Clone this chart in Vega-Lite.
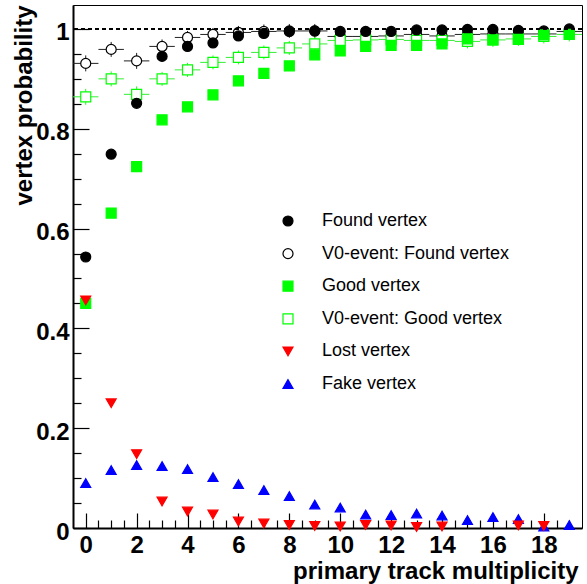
{
"$schema": "https://vega.github.io/schema/vega-lite/v6.json",
"width": 509, "height": 523,
"autosize": {"type": "none"},
"padding": {"left": 73, "top": 5, "right": 5, "bottom": 56},
"background": "white",
"config": {"font": "Liberation Sans", "view": {"stroke": "black", "strokeWidth": 1}},
"datasets": {"pts": [
{"s":"V0-event: Found vertex","m":0,"p":0.931,"lo":0.915,"hi":0.947,"x0":-0.5,"x1":0.5},
{"s":"V0-event: Found vertex","m":1,"p":0.959,"lo":0.944,"hi":0.974,"x0":0.5,"x1":1.5},
{"s":"V0-event: Found vertex","m":2,"p":0.936,"lo":0.920,"hi":0.952,"x0":1.5,"x1":2.5},
{"s":"V0-event: Found vertex","m":3,"p":0.965,"lo":0.951,"hi":0.979,"x0":2.5,"x1":3.5},
{"s":"V0-event: Found vertex","m":4,"p":0.983,"lo":0.970,"hi":0.996,"x0":3.5,"x1":4.5},
{"s":"V0-event: Found vertex","m":5,"p":0.989,"lo":0.976,"hi":1.002,"x0":4.5,"x1":5.5},
{"s":"V0-event: Found vertex","m":6,"p":0.993,"lo":0.980,"hi":1.006,"x0":5.5,"x1":6.5},
{"s":"V0-event: Found vertex","m":7,"p":0.995,"lo":0.981,"hi":1.009,"x0":6.5,"x1":7.5},
{"s":"V0-event: Found vertex","m":8,"p":0.996,"lo":0.982,"hi":1.010,"x0":7.5,"x1":8.5},
{"s":"V0-event: Found vertex","m":9,"p":0.996,"lo":0.982,"hi":1.010,"x0":8.5,"x1":9.5},
{"s":"V0-event: Found vertex","m":10,"p":0.985,"lo":0.973,"hi":0.997,"x0":9.5,"x1":10.5},
{"s":"V0-event: Found vertex","m":11,"p":0.985,"lo":0.973,"hi":0.997,"x0":10.5,"x1":11.5},
{"s":"V0-event: Found vertex","m":12,"p":0.986,"lo":0.974,"hi":0.998,"x0":11.5,"x1":12.5},
{"s":"V0-event: Found vertex","m":13,"p":0.989,"lo":0.977,"hi":1.001,"x0":12.5,"x1":13.5},
{"s":"V0-event: Found vertex","m":14,"p":0.986,"lo":0.974,"hi":0.998,"x0":13.5,"x1":14.5},
{"s":"V0-event: Found vertex","m":15,"p":0.989,"lo":0.977,"hi":1.001,"x0":14.5,"x1":15.5},
{"s":"V0-event: Found vertex","m":16,"p":0.990,"lo":0.978,"hi":1.002,"x0":15.5,"x1":16.5},
{"s":"V0-event: Found vertex","m":17,"p":0.990,"lo":0.978,"hi":1.002,"x0":16.5,"x1":17.5},
{"s":"V0-event: Found vertex","m":18,"p":0.990,"lo":0.978,"hi":1.002,"x0":17.5,"x1":18.5},
{"s":"V0-event: Found vertex","m":19,"p":0.995,"lo":0.983,"hi":1.007,"x0":18.5,"x1":19.5},
{"s":"V0-event: Good vertex","m":0,"p":0.864,"lo":0.848,"hi":0.880,"x0":-0.5,"x1":0.5},
{"s":"V0-event: Good vertex","m":1,"p":0.900,"lo":0.885,"hi":0.915,"x0":0.5,"x1":1.5},
{"s":"V0-event: Good vertex","m":2,"p":0.869,"lo":0.853,"hi":0.885,"x0":1.5,"x1":2.5},
{"s":"V0-event: Good vertex","m":3,"p":0.900,"lo":0.886,"hi":0.914,"x0":2.5,"x1":3.5},
{"s":"V0-event: Good vertex","m":4,"p":0.918,"lo":0.904,"hi":0.932,"x0":3.5,"x1":4.5},
{"s":"V0-event: Good vertex","m":5,"p":0.933,"lo":0.919,"hi":0.947,"x0":4.5,"x1":5.5},
{"s":"V0-event: Good vertex","m":6,"p":0.943,"lo":0.929,"hi":0.957,"x0":5.5,"x1":6.5},
{"s":"V0-event: Good vertex","m":7,"p":0.953,"lo":0.939,"hi":0.967,"x0":6.5,"x1":7.5},
{"s":"V0-event: Good vertex","m":8,"p":0.962,"lo":0.948,"hi":0.976,"x0":7.5,"x1":8.5},
{"s":"V0-event: Good vertex","m":9,"p":0.970,"lo":0.956,"hi":0.984,"x0":8.5,"x1":9.5},
{"s":"V0-event: Good vertex","m":10,"p":0.977,"lo":0.963,"hi":0.991,"x0":9.5,"x1":10.5},
{"s":"V0-event: Good vertex","m":11,"p":0.978,"lo":0.964,"hi":0.992,"x0":10.5,"x1":11.5},
{"s":"V0-event: Good vertex","m":12,"p":0.979,"lo":0.965,"hi":0.993,"x0":11.5,"x1":12.5},
{"s":"V0-event: Good vertex","m":13,"p":0.977,"lo":0.963,"hi":0.991,"x0":12.5,"x1":13.5},
{"s":"V0-event: Good vertex","m":14,"p":0.977,"lo":0.963,"hi":0.991,"x0":13.5,"x1":14.5},
{"s":"V0-event: Good vertex","m":15,"p":0.975,"lo":0.961,"hi":0.989,"x0":14.5,"x1":15.5},
{"s":"V0-event: Good vertex","m":16,"p":0.978,"lo":0.964,"hi":0.992,"x0":15.5,"x1":16.5},
{"s":"V0-event: Good vertex","m":17,"p":0.980,"lo":0.966,"hi":0.994,"x0":16.5,"x1":17.5},
{"s":"V0-event: Good vertex","m":18,"p":0.985,"lo":0.971,"hi":0.999,"x0":17.5,"x1":18.5},
{"s":"V0-event: Good vertex","m":19,"p":0.989,"lo":0.975,"hi":1.003,"x0":18.5,"x1":19.5},
{"s":"Found vertex","m":0,"p":0.543},
{"s":"Found vertex","m":1,"p":0.749},
{"s":"Found vertex","m":2,"p":0.851},
{"s":"Found vertex","m":3,"p":0.945},
{"s":"Found vertex","m":4,"p":0.965},
{"s":"Found vertex","m":5,"p":0.972},
{"s":"Found vertex","m":6,"p":0.986},
{"s":"Found vertex","m":7,"p":0.991},
{"s":"Found vertex","m":8,"p":0.995},
{"s":"Found vertex","m":9,"p":0.996},
{"s":"Found vertex","m":10,"p":0.995},
{"s":"Found vertex","m":11,"p":0.995},
{"s":"Found vertex","m":12,"p":0.995},
{"s":"Found vertex","m":13,"p":0.998},
{"s":"Found vertex","m":14,"p":0.998},
{"s":"Found vertex","m":15,"p":0.999},
{"s":"Found vertex","m":16,"p":0.999},
{"s":"Found vertex","m":17,"p":0.997},
{"s":"Found vertex","m":18,"p":0.996},
{"s":"Found vertex","m":19,"p":1.0},
{"s":"Good vertex","m":0,"p":0.450},
{"s":"Good vertex","m":1,"p":0.631},
{"s":"Good vertex","m":2,"p":0.724},
{"s":"Good vertex","m":3,"p":0.818},
{"s":"Good vertex","m":4,"p":0.844},
{"s":"Good vertex","m":5,"p":0.868},
{"s":"Good vertex","m":6,"p":0.896},
{"s":"Good vertex","m":7,"p":0.911},
{"s":"Good vertex","m":8,"p":0.926},
{"s":"Good vertex","m":9,"p":0.948},
{"s":"Good vertex","m":10,"p":0.956},
{"s":"Good vertex","m":11,"p":0.965},
{"s":"Good vertex","m":12,"p":0.967},
{"s":"Good vertex","m":13,"p":0.967},
{"s":"Good vertex","m":14,"p":0.970},
{"s":"Good vertex","m":15,"p":0.980},
{"s":"Good vertex","m":16,"p":0.978},
{"s":"Good vertex","m":17,"p":0.979},
{"s":"Good vertex","m":18,"p":0.988},
{"s":"Good vertex","m":19,"p":0.989},
{"s":"Fake vertex","m":0,"p":0.090},
{"s":"Fake vertex","m":1,"p":0.116},
{"s":"Fake vertex","m":2,"p":0.126},
{"s":"Fake vertex","m":3,"p":0.124},
{"s":"Fake vertex","m":4,"p":0.118},
{"s":"Fake vertex","m":5,"p":0.102},
{"s":"Fake vertex","m":6,"p":0.088},
{"s":"Fake vertex","m":7,"p":0.076},
{"s":"Fake vertex","m":8,"p":0.064},
{"s":"Fake vertex","m":9,"p":0.047},
{"s":"Fake vertex","m":10,"p":0.041},
{"s":"Fake vertex","m":11,"p":0.027},
{"s":"Fake vertex","m":12,"p":0.026},
{"s":"Fake vertex","m":13,"p":0.029},
{"s":"Fake vertex","m":14,"p":0.025},
{"s":"Fake vertex","m":15,"p":0.016},
{"s":"Fake vertex","m":16,"p":0.022},
{"s":"Fake vertex","m":17,"p":0.018},
{"s":"Fake vertex","m":18,"p":0.003},
{"s":"Fake vertex","m":19,"p":0.006},
{"s":"Lost vertex","m":0,"p":0.456},
{"s":"Lost vertex","m":1,"p":0.250},
{"s":"Lost vertex","m":2,"p":0.148},
{"s":"Lost vertex","m":3,"p":0.053},
{"s":"Lost vertex","m":4,"p":0.033},
{"s":"Lost vertex","m":5,"p":0.027},
{"s":"Lost vertex","m":6,"p":0.013},
{"s":"Lost vertex","m":7,"p":0.009},
{"s":"Lost vertex","m":8,"p":0.006},
{"s":"Lost vertex","m":9,"p":0.004},
{"s":"Lost vertex","m":10,"p":0.003},
{"s":"Lost vertex","m":11,"p":0.006},
{"s":"Lost vertex","m":12,"p":0.005},
{"s":"Lost vertex","m":13,"p":0.002},
{"s":"Lost vertex","m":14,"p":0.003},
{"s":"Lost vertex","m":17,"p":0.005},
{"s":"Lost vertex","m":18,"p":0.004}
]},
"data": {"name": "pts"},
"resolve": {"axis": {"x": "independent", "y": "independent"}},
"layer": [
{"transform": [{"filter": "datum.s === 'V0-event: Found vertex'"}],
 "mark": {"type": "rule", "color": "#222222", "strokeWidth": 1},
 "encoding": {
  "x": {"field": "x0", "type": "quantitative", "scale": {"domain": [-0.5, 19.5], "nice": false, "zero": false},
   "axis": {"orient": "bottom", "values": [0,2,4,6,8,10,12,14,16,18], "format": "d", "ticks": false, "domain": true, "domainColor": "black", "domainWidth": 2, "grid": false,
    "labelFont": "Liberation Sans", "labelFontSize": 24, "labelFontWeight": "bold", "labelColor": "black", "labelPadding": 5, "labelFlush": false, "labelOverlap": false,
    "title": "primary track multiplicity", "titleFont": "Liberation Sans", "titleFontSize": 24, "titleFontWeight": "bold", "titleColor": "black", "titleX": 505, "titleY": 50, "titleAlign": "right", "titleBaseline": "alphabetic"}},
  "x2": {"field": "x1"},
  "y": {"field": "p", "type": "quantitative", "scale": {"domain": [0, 1.048], "nice": false, "zero": false},
   "axis": {"orient": "left", "values": [0,0.2,0.4,0.6,0.8,1], "format": "~g", "ticks": false, "domain": true, "domainColor": "black", "domainWidth": 2, "grid": false,
    "labelFont": "Liberation Sans", "labelFontSize": 24, "labelFontWeight": "bold", "labelColor": "black", "labelPadding": 4, "labelOffset": 4, "labelBaseline": "middle", "labelFlush": false, "labelOverlap": false,
    "title": "vertex probability", "titleFont": "Liberation Sans", "titleFontSize": 24, "titleFontWeight": "bold", "titleColor": "black", "titleAngle": -90, "titleX": -49, "titleY": 0, "titleAlign": "right", "titleBaseline": "middle"}}
 }},
{"transform": [{"filter": "datum.s === 'V0-event: Good vertex'"}],
 "mark": {"type": "rule", "color": "#33ee33", "strokeWidth": 1},
 "encoding": {
  "x": {"field": "x0", "type": "quantitative", "scale": {"domain": [-0.5, 19.5], "nice": false, "zero": false},
   "axis": {"orient": "bottom", "values": [0,2,4,6,8,10,12,14,16,18], "ticks": true, "tickSize": -15, "tickColor": "black", "tickWidth": 1.2, "labels": false, "domain": false, "grid": false, "title": null}},
  "x2": {"field": "x1"},
  "y": {"field": "p", "type": "quantitative", "scale": {"domain": [0, 1.048], "nice": false, "zero": false},
   "axis": {"orient": "left", "values": [0,0.2,0.4,0.6,0.8,1], "ticks": true, "tickSize": -16, "tickColor": "black", "tickWidth": 1.2, "labels": false, "domain": false, "grid": false, "title": null}}
 }},
{"transform": [{"filter": "datum.s === 'V0-event: Found vertex'"}],
 "mark": {"type": "rule", "color": "#222222", "strokeWidth": 1},
 "encoding": {
  "x": {"field": "m", "type": "quantitative", "scale": {"domain": [-0.5, 19.5], "nice": false, "zero": false},
   "axis": {"orient": "bottom", "values": [0.5,1,1.5,2.5,3,3.5,4.5,5,5.5,6.5,7,7.5,8.5,9,9.5,10.5,11,11.5,12.5,13,13.5,14.5,15,15.5,16.5,17,17.5,18.5,19], "ticks": true, "tickSize": -8, "tickColor": "black", "tickWidth": 1.2, "labels": false, "domain": false, "grid": false, "title": null}},
  "y": {"field": "lo", "type": "quantitative", "scale": {"domain": [0, 1.048], "nice": false, "zero": false},
   "axis": {"orient": "left", "values": [0.05,0.1,0.15,0.25,0.3,0.35,0.45,0.5,0.55,0.65,0.7,0.75,0.85,0.9,0.95], "ticks": true, "tickSize": -8, "tickColor": "black", "tickWidth": 1.2, "labels": false, "domain": false, "grid": false, "title": null}},
  "y2": {"field": "hi"}
 }},
{"transform": [{"filter": "datum.s === 'V0-event: Good vertex'"}],
 "mark": {"type": "rule", "color": "#33ee33", "strokeWidth": 1},
 "encoding": {
  "x": {"field": "m", "type": "quantitative", "scale": {"domain": [-0.5, 19.5], "nice": false, "zero": false}, "axis": null},
  "y": {"field": "lo", "type": "quantitative", "scale": {"domain": [0, 1.048], "nice": false, "zero": false}, "axis": null},
  "y2": {"field": "hi"}
 }},
{"mark": {"type": "point", "filled": true, "size": 100, "strokeWidth": 1.2, "opacity": 1},
 "encoding": {
  "x": {"field": "m", "type": "quantitative", "scale": {"domain": [-0.5, 19.5], "nice": false, "zero": false}, "axis": null},
  "y": {"field": "p", "type": "quantitative", "scale": {"domain": [0, 1.048], "nice": false, "zero": false}, "axis": null},
  "shape": {"field": "s", "type": "nominal",
   "scale": {"domain": ["Found vertex","V0-event: Found vertex","Good vertex","V0-event: Good vertex","Lost vertex","Fake vertex"], "range": ["circle","circle","square","square","triangle-down","triangle-up"]},
   "legend": {"title": null, "orient": "none", "legendX": 206, "legendY": 207, "padding": 0, "labelFont": "Liberation Sans", "labelFontSize": 18, "labelColor": "black", "labelLimit": 0, "symbolSize": 100, "symbolStrokeWidth": 1.2, "symbolOpacity": 1, "rowPadding": 14.6, "labelOffset": 25}},
  "fill": {"field": "s", "type": "nominal",
   "scale": {"domain": ["Found vertex","V0-event: Found vertex","Good vertex","V0-event: Good vertex","Lost vertex","Fake vertex"], "range": ["#000000","#ffffff","#00ff00","#ffffff","#ff0000","#0000ff"]},
   "legend": {"title": null, "orient": "none", "legendX": 206, "legendY": 207, "padding": 0, "labelFont": "Liberation Sans", "labelFontSize": 18, "labelColor": "black", "labelLimit": 0, "symbolSize": 100, "symbolStrokeWidth": 1.2, "symbolOpacity": 1, "rowPadding": 14.6, "labelOffset": 25}},
  "stroke": {"field": "s", "type": "nominal",
   "scale": {"domain": ["Found vertex","V0-event: Found vertex","Good vertex","V0-event: Good vertex","Lost vertex","Fake vertex"], "range": ["#000000","#000000","#00ff00","#00ff00","#ff0000","#0000ff"]},
   "legend": {"title": null, "orient": "none", "legendX": 206, "legendY": 207, "padding": 0, "labelFont": "Liberation Sans", "labelFontSize": 18, "labelColor": "black", "labelLimit": 0, "symbolSize": 100, "symbolStrokeWidth": 1.2, "symbolOpacity": 1, "rowPadding": 14.6, "labelOffset": 25}}
 }},
{"mark": {"type": "rule", "color": "black", "strokeWidth": 1.5, "strokeDash": [4, 3]},
 "encoding": {
  "y": {"datum": 1, "type": "quantitative", "scale": {"domain": [0, 1.048], "nice": false, "zero": false}, "axis": null}
 }}
]
}
